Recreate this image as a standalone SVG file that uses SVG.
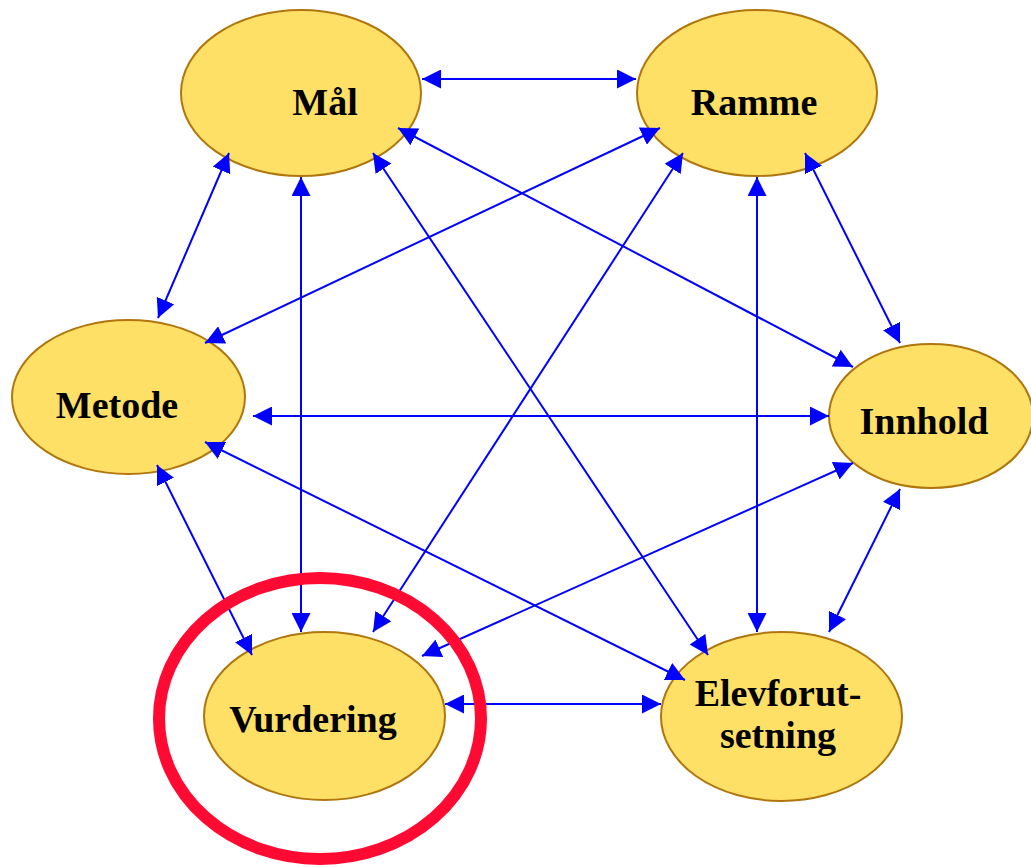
<svg xmlns="http://www.w3.org/2000/svg" width="1031" height="867" viewBox="0 0 1031 867">
<style>
.node{fill:#FFE066;stroke:#B0760E;stroke-width:2}
.lbl{font-family:"Liberation Serif","Times New Roman",serif;font-weight:bold;font-size:38px;fill:#000;text-anchor:middle}
.c{stroke:#0000FF;stroke-width:2;fill:none;marker-start:url(#ah);marker-end:url(#ah)}
</style>
<defs>
<marker id="ah" markerUnits="userSpaceOnUse" markerWidth="19" markerHeight="19" viewBox="0 0 19 19" refX="19" refY="9.5" orient="auto-start-reverse">
<path d="M0,0 L19,9.5 L0,19 z" fill="#0000FF"/>
</marker>
</defs>
<rect width="1031" height="867" fill="#FFFFFF"/>
<g id="nodes">
<g id="maal"><ellipse class="node" cx="301" cy="93" rx="120" ry="83"/><text class="lbl" x="325" y="115">Mål</text></g>
<g id="ramme"><ellipse class="node" cx="757" cy="93" rx="120" ry="83"/><text class="lbl" x="754" y="115">Ramme</text></g>
<g id="metode"><ellipse class="node" cx="128.5" cy="397" rx="116.5" ry="77"/><text class="lbl" x="117" y="418">Metode</text></g>
<g id="innhold"><ellipse class="node" cx="931" cy="416" rx="102" ry="72"/><text class="lbl" x="924" y="434">Innhold</text></g>
<g id="vurdering"><ellipse class="node" cx="324.5" cy="716" rx="120.5" ry="84"/><text class="lbl" x="313" y="732">Vurdering</text></g>
<g id="elevforutsetning"><ellipse class="node" cx="781.5" cy="716.5" rx="120.5" ry="84.5"/><text class="lbl" x="778" y="706">Elevforut-</text><text class="lbl" x="778" y="748">setning</text></g>
</g>
<g id="connectors">
<line class="c" x1="422" y1="79" x2="636" y2="79"/>
<line class="c" x1="229" y1="153" x2="158" y2="318"/>
<line class="c" x1="301" y1="177" x2="301" y2="632"/>
<line class="c" x1="373" y1="153" x2="708" y2="655"/>
<line class="c" x1="398" y1="128" x2="853" y2="367"/>
<line class="c" x1="660" y1="128" x2="205" y2="343"/>
<line class="c" x1="683" y1="153" x2="373" y2="632"/>
<line class="c" x1="757" y1="177" x2="757" y2="632"/>
<line class="c" x1="805" y1="153" x2="900" y2="343"/>
<line class="c" x1="253" y1="416" x2="829" y2="416"/>
<line class="c" x1="205" y1="442" x2="685" y2="680"/>
<line class="c" x1="157" y1="465" x2="252" y2="655"/>
<line class="c" x1="853" y1="463" x2="422" y2="656"/>
<line class="c" x1="900" y1="489" x2="829" y2="632"/>
<line class="c" x1="445" y1="704" x2="661" y2="704"/>
</g>
<ellipse id="highlight" cx="320" cy="718.5" rx="161" ry="140.5" fill="none" stroke="#FF0A32" stroke-width="12"/>
</svg>
